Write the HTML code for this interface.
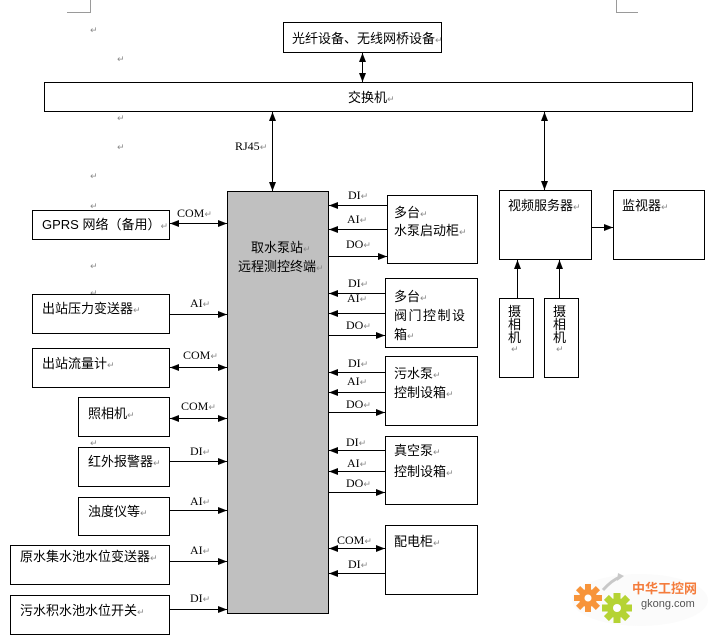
<!DOCTYPE html>
<html><head><meta charset="utf-8">
<style>
html,body{margin:0;padding:0;background:#fff;}
svg{display:block;}
text{font-family:"Liberation Serif","Noto Serif CJK SC","Noto Sans CJK SC",serif;font-size:13px;fill:#000;}
.c{font-family:"Liberation Sans","Noto Sans CJK SC","WenQuanYi Zen Hei",sans-serif;font-size:13px;}
.l{font-family:"Liberation Serif",serif;font-size:12px;}
.r{fill:#8a8a8a;font-size:9px;font-family:"DejaVu Sans",sans-serif;}
</style></head>
<body>
<svg width="712" height="635" viewBox="0 0 712 635" xmlns="http://www.w3.org/2000/svg">
<defs>
<marker id="a" viewBox="0 0 9 7" refX="9" refY="3.5" markerWidth="9" markerHeight="7" markerUnits="userSpaceOnUse" orient="auto-start-reverse">
<path d="M0,0 L9,3.5 L0,7 z" fill="#000"/>
</marker>
</defs>

<g stroke="#9a9a9a" stroke-width="1" fill="none">
<path d="M67,12.5 H90.5 V0"/>
<path d="M616.5,0 V12.5 H638"/>
</g>

<g class="r">
<text x="90" y="33" class="r">↵</text>
<text x="117" y="62" class="r">↵</text>
<text x="117" y="121" class="r">↵</text>
<text x="117" y="150" class="r">↵</text>
<text x="90" y="179" class="r">↵</text>
<text x="90" y="209" class="r">↵</text>
<text x="90" y="269" class="r">↵</text>
<text x="90" y="296" class="r">↵</text>
<text x="90" y="446" class="r">↵</text>
<text x="277" y="211" class="r">↵</text>
<text x="277" y="230" class="r">↵</text>
</g>

<g fill="none" stroke="#000" stroke-width="1">
<rect x="283.5" y="22.5" width="158" height="30"/>
<rect x="44.5" y="82.5" width="648" height="29"/>
<rect x="227.5" y="191.5" width="101" height="422" fill="#c0c0c0"/>

<rect x="32.5" y="210.5" width="137" height="29"/>
<rect x="32.5" y="294.5" width="137" height="39"/>
<rect x="32.5" y="348.5" width="137" height="39"/>
<rect x="78.5" y="397.5" width="91" height="39"/>
<rect x="78.5" y="447.5" width="91" height="39"/>
<rect x="78.5" y="497.5" width="91" height="38"/>
<rect x="10.5" y="545.5" width="159" height="39"/>
<rect x="10.5" y="595.5" width="159" height="39"/>

<rect x="387.5" y="195.5" width="90" height="68"/>
<rect x="385.5" y="278.5" width="92" height="69"/>
<rect x="385.5" y="356.5" width="92" height="69"/>
<rect x="385.5" y="436.5" width="92" height="68"/>
<rect x="385.5" y="525.5" width="92" height="69"/>

<rect x="499.5" y="190.5" width="92" height="69"/>
<rect x="613.5" y="190.5" width="91" height="69"/>
<rect x="499.5" y="298.5" width="34" height="79"/>
<rect x="544.5" y="298.5" width="34" height="79"/>
</g>

<g stroke="#000" stroke-width="1" fill="none">
<line x1="362.5" y1="53" x2="362.5" y2="82" marker-start="url(#a)" marker-end="url(#a)"/>
<line x1="272.5" y1="112" x2="272.5" y2="191" marker-start="url(#a)" marker-end="url(#a)"/>
<line x1="544.5" y1="112" x2="544.5" y2="190" marker-start="url(#a)" marker-end="url(#a)"/>

<line x1="170" y1="223.5" x2="227" y2="223.5" marker-start="url(#a)" marker-end="url(#a)"/>
<line x1="170" y1="314.5" x2="227" y2="314.5" marker-end="url(#a)"/>
<line x1="170" y1="367.5" x2="227" y2="367.5" marker-start="url(#a)" marker-end="url(#a)"/>
<line x1="170" y1="418.5" x2="227" y2="418.5" marker-start="url(#a)" marker-end="url(#a)"/>
<line x1="170" y1="461.5" x2="227" y2="461.5" marker-end="url(#a)"/>
<line x1="170" y1="510.5" x2="227" y2="510.5" marker-end="url(#a)"/>
<line x1="170" y1="561.5" x2="227" y2="561.5" marker-end="url(#a)"/>
<line x1="170" y1="609.5" x2="227" y2="609.5" marker-end="url(#a)"/>

<line x1="387" y1="205.5" x2="329" y2="205.5" marker-end="url(#a)"/>
<line x1="387" y1="229.5" x2="329" y2="229.5" marker-end="url(#a)"/>
<line x1="329" y1="256.5" x2="387" y2="256.5" marker-end="url(#a)"/>

<line x1="385" y1="293.5" x2="329" y2="293.5" marker-end="url(#a)"/>
<line x1="385" y1="313.5" x2="329" y2="313.5" marker-end="url(#a)"/>
<line x1="329" y1="335.5" x2="385" y2="335.5" marker-end="url(#a)"/>

<line x1="385" y1="372.5" x2="329" y2="372.5" marker-end="url(#a)"/>
<line x1="385" y1="392.5" x2="329" y2="392.5" marker-end="url(#a)"/>
<line x1="329" y1="412.5" x2="385" y2="412.5" marker-end="url(#a)"/>

<line x1="385" y1="450.5" x2="329" y2="450.5" marker-end="url(#a)"/>
<line x1="385" y1="471.5" x2="329" y2="471.5" marker-end="url(#a)"/>
<line x1="329" y1="492.5" x2="385" y2="492.5" marker-end="url(#a)"/>

<line x1="329" y1="548.5" x2="385" y2="548.5" marker-start="url(#a)" marker-end="url(#a)"/>
<line x1="385" y1="573.5" x2="329" y2="573.5" marker-end="url(#a)"/>

<line x1="592" y1="227.5" x2="613" y2="227.5" marker-end="url(#a)"/>
<line x1="517.5" y1="298" x2="517.5" y2="260" marker-end="url(#a)"/>
<line x1="559.5" y1="298" x2="559.5" y2="260" marker-end="url(#a)"/>
</g>

<text class="c" x="292" y="43">光纤设备、无线网桥设备<tspan class="r">↵</tspan></text>
<text class="c" x="348" y="102">交换机<tspan class="r">↵</tspan></text>
<text class="l" x="235" y="150">RJ45<tspan class="r">↵</tspan></text>

<text class="c" x="251" y="252">取水泵站<tspan class="r">↵</tspan></text>
<text class="c" x="238" y="271">远程测控终端<tspan class="r">↵</tspan></text>

<text class="c" x="42" y="229">GPRS 网络（备用）<tspan class="r">↵</tspan></text>
<text class="c" x="42" y="313">出站压力变送器<tspan class="r">↵</tspan></text>
<text class="c" x="42" y="368">出站流量计<tspan class="r">↵</tspan></text>
<text class="c" x="88" y="418">照相机<tspan class="r">↵</tspan></text>
<text class="c" x="88" y="466">红外报警器<tspan class="r">↵</tspan></text>
<text class="c" x="88" y="516">浊度仪等<tspan class="r">↵</tspan></text>
<text class="c" x="20" y="561">原水集水池水位变送器<tspan class="r">↵</tspan></text>
<text class="c" x="20" y="615">污水积水池水位开关<tspan class="r">↵</tspan></text>

<text class="l" x="177" y="217">COM<tspan class="r">↵</tspan></text>
<text class="l" x="190" y="307">AI<tspan class="r">↵</tspan></text>
<text class="l" x="183" y="359">COM<tspan class="r">↵</tspan></text>
<text class="l" x="181" y="410">COM<tspan class="r">↵</tspan></text>
<text class="l" x="190" y="455">DI<tspan class="r">↵</tspan></text>
<text class="l" x="190" y="505">AI<tspan class="r">↵</tspan></text>
<text class="l" x="190" y="554">AI<tspan class="r">↵</tspan></text>
<text class="l" x="190" y="602">DI<tspan class="r">↵</tspan></text>

<text class="l" x="348" y="199">DI<tspan class="r">↵</tspan></text>
<text class="l" x="347" y="223">AI<tspan class="r">↵</tspan></text>
<text class="l" x="346" y="248">DO<tspan class="r">↵</tspan></text>
<text class="c" x="394" y="217">多台<tspan class="r">↵</tspan></text>
<text class="c" x="394" y="235">水泵启动柜<tspan class="r">↵</tspan></text>

<text class="l" x="348" y="287">DI<tspan class="r">↵</tspan></text>
<text class="l" x="347" y="302">AI<tspan class="r">↵</tspan></text>
<text class="l" x="346" y="329">DO<tspan class="r">↵</tspan></text>
<text class="c" x="394" y="301">多台<tspan class="r">↵</tspan></text>
<text class="c" x="394" y="320" letter-spacing="1.5">阀门控制设</text>
<text class="c" x="394" y="339">箱<tspan class="r">↵</tspan></text>

<text class="l" x="348" y="367">DI<tspan class="r">↵</tspan></text>
<text class="l" x="347" y="385">AI<tspan class="r">↵</tspan></text>
<text class="l" x="346" y="408">DO<tspan class="r">↵</tspan></text>
<text class="c" x="394" y="378">污水泵<tspan class="r">↵</tspan></text>
<text class="c" x="394" y="397">控制设箱<tspan class="r">↵</tspan></text>

<text class="l" x="346" y="446">DI<tspan class="r">↵</tspan></text>
<text class="l" x="347" y="467">AI<tspan class="r">↵</tspan></text>
<text class="l" x="346" y="487">DO<tspan class="r">↵</tspan></text>
<text class="c" x="394" y="455">真空泵<tspan class="r">↵</tspan></text>
<text class="c" x="394" y="476">控制设箱<tspan class="r">↵</tspan></text>

<text class="l" x="337" y="544">COM<tspan class="r">↵</tspan></text>
<text class="l" x="348" y="568">DI<tspan class="r">↵</tspan></text>
<text class="c" x="394" y="546">配电柜<tspan class="r">↵</tspan></text>

<text class="c" x="508" y="210">视频服务器<tspan class="r">↵</tspan></text>
<text class="c" x="622" y="210">监视器<tspan class="r">↵</tspan></text>

<text class="c" x="508" y="316">摄</text>
<text class="c" x="508" y="329">相</text>
<text class="c" x="508" y="342">机</text>
<text class="r" x="511" y="352">↵</text>
<text class="c" x="553" y="316">摄</text>
<text class="c" x="553" y="329">相</text>
<text class="c" x="553" y="342">机</text>
<text class="r" x="556" y="352">↵</text>

<g>
<ellipse cx="640" cy="600" rx="68" ry="26" fill="#f7f7f7" opacity="0.5"/>
<path d="M603,590 Q612,580 620,577" stroke="#c8c8c8" stroke-width="3" fill="none"/>
<path d="M618,573 L624,576 L617,581 z" fill="#c8c8c8"/>
<g transform="translate(588,598)" fill="#f7943a">
<circle r="9"/>
<rect x="-3" y="-14" width="6" height="28"/>
<rect x="-14" y="-3" width="28" height="6"/>
<rect x="-3" y="-14" width="6" height="28" transform="rotate(45)"/>
<rect x="-3" y="-14" width="6" height="28" transform="rotate(-45)"/>
<circle r="3.5" fill="#fff"/>
</g>
<g transform="translate(617,608)" fill="#b5d334">
<circle r="10"/>
<rect x="-3.5" y="-15" width="7" height="30"/>
<rect x="-15" y="-3.5" width="30" height="7"/>
<rect x="-3.5" y="-15" width="7" height="30" transform="rotate(45)"/>
<rect x="-3.5" y="-15" width="7" height="30" transform="rotate(-45)"/>
<circle r="4" fill="#fff"/>
</g>
<text x="632" y="593" style="font-family:'Noto Sans CJK SC','WenQuanYi Zen Hei',sans-serif;font-size:13px;font-weight:bold;fill:#f47c3c;">中华工控网</text>
<text x="641" y="607" style="font-family:'Liberation Sans',sans-serif;font-size:11px;fill:#555;">gkong.com</text>
</g>
</svg>
</body></html>
